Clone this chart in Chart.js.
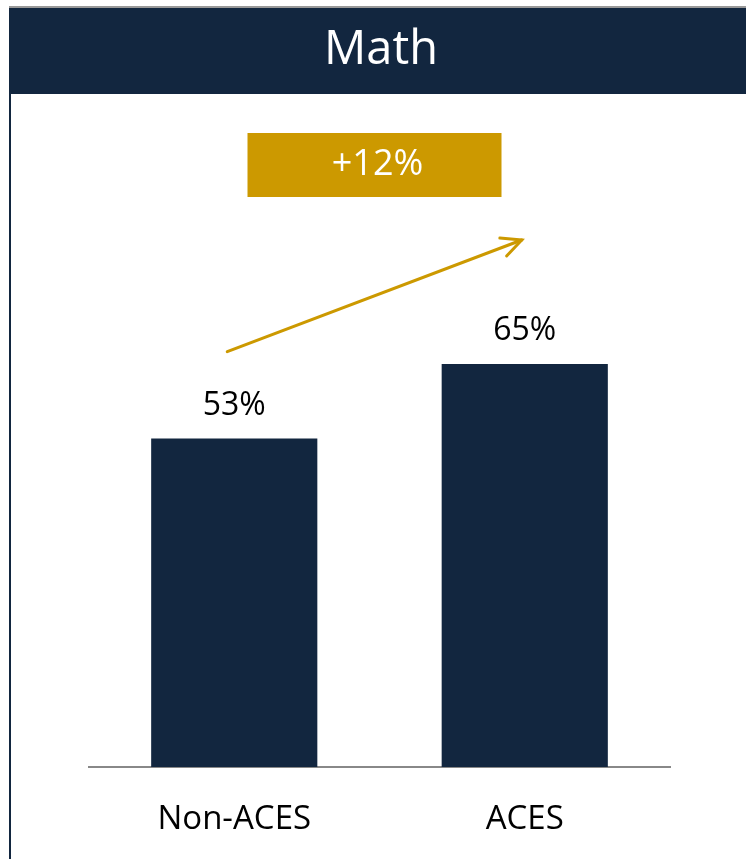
<!DOCTYPE html>
<html><head><meta charset="utf-8">
<script src="https://cdn.jsdelivr.net/npm/chart.js@4"></script>
<style>html,body{margin:0;padding:0;background:#fff;}#wrap{position:relative;width:746px;height:859px;}</style>
</head><body><div id="wrap"><canvas id="c" width="746" height="859"></canvas></div>
<script>
const title = "Math";
const categories = ["Non-ACES", "ACES"];
const values = [53, 65];
const valueLabels = ["53%", "65%"];
const changeLabel = "+12%";

const NAVY = "#12263F", GOLD = "#CC9900";
const FONT = "'Open Sans', sans-serif";

const deco = {
  id: 'deco',
  beforeDraw(chart) {
    const ctx = chart.ctx;
    ctx.save();
    ctx.fillStyle = "#999";
    ctx.fillRect(9, 6, 737, 2);
    ctx.fillStyle = NAVY;
    ctx.fillRect(9, 8, 737, 86);
    ctx.fillRect(9, 94, 2, 765);
    ctx.fillStyle = "#fff";
    ctx.font = "47px " + FONT;
    ctx.textAlign = "center"; ctx.textBaseline = "middle";
    ctx.fillText(title, 381, 51);
    ctx.restore();
  },
  afterDatasetsDraw(chart) {
    const ctx = chart.ctx;
    const ys = chart.scales.y;
    const meta = chart.getDatasetMeta(0);
    ctx.save();
    ctx.fillStyle = "#000";
    ctx.font = "32px " + FONT;
    ctx.textAlign = "center"; ctx.textBaseline = "middle";
    meta.data.forEach((b, i) => ctx.fillText(valueLabels[i], b.x, b.y - 33));
    const mid = (meta.data[0].x + meta.data[1].x) / 2 - 5;
    ctx.fillStyle = GOLD;
    ctx.fillRect(mid - 127, 133, 254, 64);
    ctx.fillStyle = "#fff";
    ctx.font = "36px " + FONT;
    ctx.fillText(changeLabel, mid + 3, 165);
    const x0 = meta.data[0].x - 7, y0 = ys.getPixelForValue(values[0] + 14);
    const x1 = meta.data[1].x - 3, y1 = ys.getPixelForValue(values[1] + 20);
    ctx.strokeStyle = GOLD; ctx.lineWidth = 3; ctx.lineCap = "round";
    ctx.beginPath(); ctx.moveTo(x0, y0); ctx.lineTo(x1, y1); ctx.stroke();
    const ang = Math.atan2(y1 - y0, x1 - x0), L = 22, a = 0.45;
    ctx.beginPath();
    ctx.moveTo(x1 - L * Math.cos(ang - a), y1 - L * Math.sin(ang - a));
    ctx.lineTo(x1, y1);
    ctx.lineTo(x1 - L * Math.cos(ang + a), y1 - L * Math.sin(ang + a));
    ctx.stroke();
    ctx.restore();
  }
};

new Chart(document.getElementById('c'), {
  type: 'bar',
  data: { labels: categories, datasets: [{ data: values, backgroundColor: NAVY, barPercentage: 0.572, categoryPercentage: 1 }] },
  options: {
    responsive: false, animation: false,
    layout: { padding: { left: 89, right: 76, top: 147, bottom: 0 } },
    plugins: { legend: { display: false }, tooltip: { enabled: false }, title: { display: false } },
    scales: {
      y: { display: false, min: 0, max: 100 },
      x: {
        grid: { display: false },
        border: { color: "#888", width: 2 },
        ticks: { color: "#000", font: { family: FONT, size: 33 }, padding: 25 },
        afterFit(s) { s.height = 92; }
      }
    }
  },
  plugins: [deco]
});
</script></body></html>
